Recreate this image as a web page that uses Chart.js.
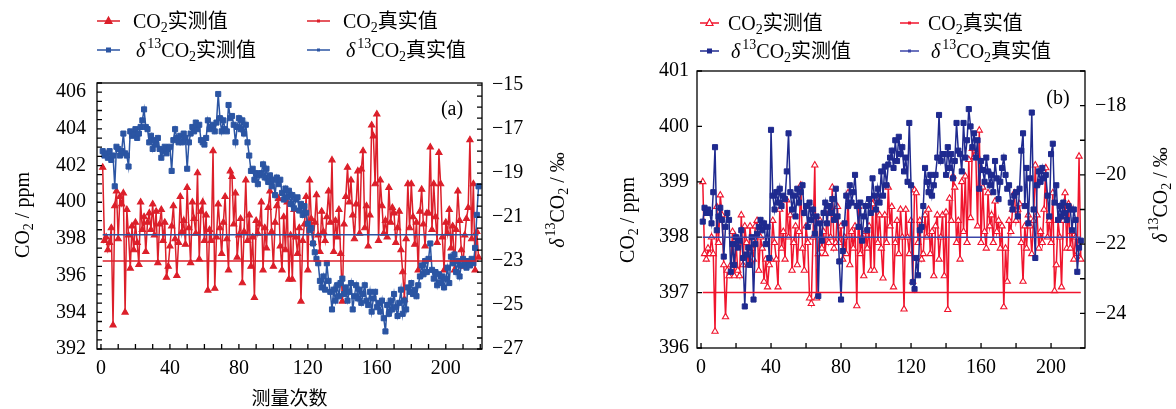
<!DOCTYPE html>
<html>
<head>
<meta charset="utf-8">
<script src="https://cdn.jsdelivr.net/npm/chart.js@4.4.0/dist/chart.umd.min.js"></script>
<style>
html, body { margin: 0; padding: 0; background: #fff; width: 1176px; height: 409px; overflow: hidden; }
.panel { position: absolute; top: 0; width: 588px; height: 409px; }
#pa { left: 0; }
#pb { left: 588px; }
</style>
</head>
<body>
<div class="panel" id="pa"><canvas id="chartA"></canvas></div>
<div class="panel" id="pb"><canvas id="chartB"></canvas></div>
<script>
// 图 (a)
const co2MeasA = [
  401.9, 397.9, 398.1, 397.4, 397.8, 398.6, 393.3, 399.8, 400.6, 398.0,
  400.3, 399.9, 400.5, 394.0, 399.6, 398.2, 396.4, 398.7, 397.4, 398.9,
  397.8, 396.6, 400.0, 398.5, 399.2, 397.3, 398.9, 399.4, 398.5, 399.9,
  398.2, 399.5, 396.7, 398.8, 399.6, 397.9, 398.9, 395.9, 396.5, 397.6,
  398.7, 399.8, 398.0, 396.0, 397.8, 400.3, 398.4, 399.0, 397.7, 400.8,
  398.6, 396.7, 400.0, 399.1, 398.3, 401.6, 396.9, 399.5, 400.0, 397.9,
  399.3, 395.2, 398.5, 397.9, 402.8, 395.3, 398.1, 399.9, 398.6, 397.2,
  398.9, 400.3, 398.0, 396.3, 401.7, 401.4, 398.8, 400.5, 397.0, 398.2,
  399.1, 395.6, 398.4, 401.2, 397.9, 399.3, 396.5, 398.1, 394.8, 399.0,
  398.3, 398.8, 400.0, 396.3, 398.6, 397.5, 399.7, 400.6, 398.4, 396.5,
  398.9, 399.8, 400.2, 397.6, 396.3, 399.2, 397.4, 400.0, 395.8, 398.2,
  395.8, 399.6, 398.1, 397.2, 398.6, 394.6, 397.9, 398.8, 400.3, 396.3,
  401.2, 399.1, 397.8, 398.9, 400.4, 398.2, 397.3, 399.5, 398.4, 397.9,
  399.2, 400.6, 398.9, 402.3, 397.3, 399.0, 398.1, 399.6, 397.2, 394.6,
  398.8, 400.3, 401.9, 400.0, 401.2, 399.3, 398.0, 399.9, 401.7, 398.3,
  401.8, 402.8, 398.6, 399.8, 397.6, 399.3, 404.2, 403.6, 401.0, 404.8,
  397.9, 401.2, 399.8, 398.3, 399.0, 398.1, 400.8, 398.9, 399.7, 399.4,
  397.8, 398.6, 399.5, 397.4, 396.2, 394.7, 398.0, 401.0, 398.6, 401.0,
  399.2, 397.7, 398.9, 396.3, 399.5, 400.7, 398.8, 397.6, 399.4, 399.4,
  403.0, 398.5, 401.0, 399.2, 397.8, 402.7, 401.0, 398.1, 396.3, 398.9,
  398.3, 399.6, 397.5, 398.7, 396.3, 398.5, 400.6, 399.0, 397.4, 396.5,
  398.2, 399.1, 399.7, 403.4, 398.0, 401.0, 396.3, 398.4, 397.0
];
const d13MeasA = [
  -18.0, -18.2, -18.1, -18.3, -18.0, -18.4, -18.2, -19.6, -17.8, -17.9,
  -18.2, -18.0, -17.2, -18.1, -18.2, -18.7, -17.1, -17.3, -17.2, -17.0,
  -17.4, -17.2, -16.9, -16.6, -16.1, -16.9, -17.0, -17.6, -17.3, -17.9,
  -17.5, -17.7, -17.4, -17.9, -18.3, -18.0, -17.8, -18.1, -17.9, -17.8,
  -18.9, -17.5, -17.0, -17.4, -17.6, -17.3, -17.6, -17.2, -17.4, -18.8,
  -17.6, -17.2, -16.9, -17.1, -16.7, -17.0, -16.8, -17.5, -17.6, -17.7,
  -17.4, -16.6, -17.0, -16.9, -16.8, -17.1, -16.7, -15.4, -16.5, -17.1,
  -16.6, -17.0, -17.1, -15.9, -16.5, -16.4, -16.8, -17.6, -16.9, -16.5,
  -17.0, -16.6, -17.2, -16.8, -17.6, -18.2, -18.9, -18.8, -19.3, -19.0,
  -19.5, -19.1, -19.0, -18.6, -19.2, -18.8, -19.4, -19.1, -19.6, -19.3,
  -20.0, -19.2, -19.5, -19.3, -19.9, -20.2, -19.7, -20.1, -19.8, -20.4,
  -20.0, -20.6, -20.2, -20.1, -20.7, -20.4, -20.9, -20.5, -20.8, -21.3,
  -21.6, -21.5, -22.2, -22.6, -22.9, -23.1, -23.9, -24.2, -23.7, -24.3,
  -23.1, -23.9, -24.4, -25.2, -24.3, -24.8, -24.1, -24.6, -24.0, -23.8,
  -24.5, -24.2, -24.8, -24.4, -24.0, -25.2, -24.6, -24.1, -24.7, -24.3,
  -24.9, -24.5, -24.1, -24.8, -25.0, -24.4, -25.3, -24.7, -24.4, -25.1,
  -24.9, -25.3, -24.8, -25.6, -26.2, -25.0, -25.4, -24.8, -25.2, -24.5,
  -25.1, -25.5, -24.9, -24.3, -25.4, -24.8, -25.2, -24.2, -24.4, -24.0,
  -24.5, -24.3, -24.6, -24.1, -23.7, -23.2, -23.6, -23.0, -23.5, -22.9,
  -22.2, -23.4, -23.8, -23.5, -24.1, -23.6, -24.0, -23.7, -24.2, -23.8,
  -23.3, -24.0, -22.8, -23.1, -22.7, -23.5, -23.0, -23.7, -23.2, -22.9,
  -23.1, -23.3, -23.0, -23.2, -22.9, -23.1, -22.4, -20.9, -19.6
];
const co2TrueA = 396.8;
const d13TrueA = -21.8;

// 图 (b)
const co2MeasB = [
  399.0, 397.7, 397.6, 397.8, 397.7, 398.0, 397.7, 396.3, 398.55, 397.9,
  398.76, 398.4, 397.5, 396.56, 397.4, 397.3, 397.5, 398.1, 397.3, 397.9,
  397.4, 397.3, 398.4, 397.5, 398.2, 397.9, 397.5, 398.2, 397.8, 397.6,
  398.2, 398.3, 397.4, 398.0, 397.8, 397.2, 397.6, 397.1, 397.5, 397.6,
  398.3, 397.9, 397.6, 397.1, 398.5, 397.8, 398.1, 397.6, 398.67, 398.0,
  398.4, 397.4, 397.9, 398.2, 397.5, 398.1, 398.94, 397.8, 397.4, 398.2,
  397.9, 396.9, 396.8, 398.0, 399.3, 396.9, 397.7, 398.3, 397.8, 398.1,
  397.7, 398.5, 397.9, 398.0, 398.9, 397.8, 397.9, 398.55, 397.9, 398.2,
  397.6, 398.0, 397.7, 398.8, 397.5, 398.1, 397.8, 398.2, 396.76, 398.55,
  397.7, 398.0, 397.3, 398.1, 397.8, 398.2, 397.4, 398.6, 397.4, 398.7,
  397.9, 398.4, 397.8, 397.26, 398.4, 397.9, 398.9, 398.2, 398.55, 397.1,
  397.9, 398.3, 397.7, 398.5, 398.0, 396.7, 398.5, 398.0, 397.7, 398.3,
  397.2, 398.85, 398.8, 397.9, 398.3, 397.6, 397.7, 398.4, 398.0, 398.5,
  397.7, 398.1, 397.3, 398.2, 398.4, 397.6, 398.0, 398.4, 397.3, 398.45,
  396.69, 398.7, 398.3, 399.1, 398.9, 397.9, 398.3, 397.6, 399.0, 398.1,
  399.1, 397.9, 399.4, 398.35, 399.6, 399.45, 399.5, 398.2, 399.93, 397.9,
  398.9, 398.1, 397.8, 398.8, 398.2, 398.4, 397.9, 398.65, 398.1, 398.3,
  397.8, 398.2, 396.74, 397.8, 397.2, 398.3, 398.1, 398.5, 398.8, 398.3,
  398.5, 398.6, 397.9, 397.2, 398.2, 397.8, 398.4, 398.2, 397.7, 398.3,
  399.3, 398.4, 397.8, 398.1, 397.9, 398.5, 399.25, 398.0, 398.3, 397.9,
  398.8, 397.03, 397.5, 398.3, 398.0, 397.1, 398.3, 398.8, 397.8, 398.6,
  397.8, 398.1, 397.6, 398.0, 397.7, 399.46, 397.6
];
const d13MeasB = [
  -21.35, -20.95, -21.1, -21.0, -21.1, -21.4, -20.5, -19.2, -21.6, -21.2,
  -20.95, -21.3, -22.36, -21.5, -21.1, -21.3, -22.8, -22.0, -22.6, -21.8,
  -22.1, -21.9, -21.6, -22.4, -23.8, -22.3, -22.1, -22.6, -21.8, -23.6,
  -22.0, -21.7, -21.5, -21.3, -21.6, -21.4, -22.0, -21.5, -22.4, -18.7,
  -20.6, -21.0, -20.5, -20.8, -20.4, -20.9, -20.6, -20.7, -19.9, -18.8,
  -20.5, -21.0, -20.6, -21.2, -20.4, -20.8, -20.5, -20.3, -21.1, -20.9,
  -21.5, -20.8, -21.3, -21.0, -21.7, -21.2, -23.5, -21.4, -21.9, -21.1,
  -20.8, -21.4, -20.9, -21.1, -20.7, -21.3, -20.4, -21.2, -22.5, -23.6,
  -22.2, -21.4, -20.6, -20.9, -20.3, -20.8, -20.5, -20.0, -20.9, -21.5,
  -20.8, -21.9, -21.2, -20.9, -21.6, -20.7, -21.1, -20.1, -20.6, -21.0,
  -20.4, -20.8, -19.9, -20.6, -19.76, -20.3, -19.7, -19.5, -19.3, -19.8,
  -19.0, -19.6, -18.9, -19.4, -19.2, -19.9, -19.5, -20.2, -18.5, -20.3,
  -23.1, -23.3, -22.4, -22.9, -21.6, -21.5, -20.9, -19.8, -20.2, -20.5,
  -20.0, -20.6, -20.3, -20.0, -19.5, -18.27, -19.6, -19.4, -19.4, -20.0,
  -19.2, -19.8, -19.4, -20.1, -19.6, -18.5, -19.3, -19.4, -19.9, -18.5,
  -19.5, -19.0, -18.1, -18.6, -19.2, -18.8, -19.5, -19.0, -20.4, -19.6,
  -19.86, -20.2, -19.5, -19.9, -20.3, -20.0, -20.5, -19.6, -20.1, -20.7,
  -20.2, -19.8, -19.5, -20.0, -20.4, -20.3, -20.8, -21.0, -20.6, -20.5,
  -21.2, -20.4, -19.3, -18.8, -20.9, -19.8, -21.4, -20.1, -18.2, -21.0,
  -22.4, -20.3, -19.9, -20.2, -19.8, -20.1, -20.0, -20.6, -21.2, -19.4,
  -19.1, -20.8, -20.3, -21.3, -20.9, -21.2, -20.8, -21.1, -21.3, -20.9,
  -21.0, -21.6, -21.0, -21.3, -22.8, -22.1, -21.9
];
const co2TrueB = 397.0;
const d13TrueB = -21.8;

const legendLabels = ['CO_2实测值', 'CO_2真实值', 'δ^{13}CO_2实测值', 'δ^{13}CO_2真实值'];
const xTicks = [0, 40, 80, 120, 160, 200];
const leftTicksA = [392, 394, 396, 398, 400, 402, 404, 406];
const rightTicksA = [-27, -25, -23, -21, -19, -17, -15];
const leftTicksB = [396, 397, 398, 399, 400, 401];
const rightTicksB = [-24, -22, -20, -18];

const SERIF = "'Liberation Serif', 'Noto Sans CJK SC', serif";

// 简单的上下标文字
function parseRich(s) {
  const parts = [];
  let i = 0;
  while (i < s.length) {
    const c = s[i];
    if (c === '_') { parts.push({ t: s[i + 1], k: 'sub' }); i += 2; }
    else if (c === '^') { const j = s.indexOf('}', i); parts.push({ t: s.slice(i + 2, j), k: 'sup' }); i = j + 1; }
    else if (c === 'δ') { parts.push({ t: c, k: 'it' }); i++; }
    else {
      let j = i;
      while (j < s.length && !'_^δ'.includes(s[j])) j++;
      parts.push({ t: s.slice(i, j), k: 'n' }); i = j;
    }
  }
  return parts;
}
function fontFor(k, size) {
  if (k === 'sub' || k === 'sup') return Math.round(size * 0.68) + 'px ' + SERIF;
  if (k === 'it') return 'italic ' + size + 'px ' + SERIF;
  return size + 'px ' + SERIF;
}
function drawRich(ctx, s, x, y, size, align) {
  const parts = parseRich(s);
  let w = 0;
  parts.forEach(p => { ctx.font = fontFor(p.k, size); p.w = ctx.measureText(p.t).width + (p.k === 'it' ? 2 : 0); w += p.w; });
  let cx = align === 'center' ? x - w / 2 : x;
  ctx.textAlign = 'left';
  ctx.textBaseline = 'alphabetic';
  const base = y + size * 0.33;
  parts.forEach(p => {
    ctx.font = fontFor(p.k, size);
    const dy = p.k === 'sub' ? size * 0.22 : p.k === 'sup' ? -size * 0.42 : 0;
    ctx.fillText(p.t, cx, base + dy);
    cx += p.w;
  });
}

const decorPlugin = {
  id: 'decor',
  afterDraw(chart, args, o) {
    const ctx = chart.ctx;
    const a = chart.chartArea;
    ctx.save();
    ctx.strokeStyle = '#000';
    ctx.lineWidth = 1.3;
    // 内向刻度
    o.minor.forEach(m => {
      const sc = chart.scales[m.axis];
      ctx.beginPath();
      for (let v = m.from; v <= m.to + 1e-9; v += m.step) {
        const p = sc.getPixelForValue(v);
        if (m.axis === 'x') { ctx.moveTo(p, a.bottom); ctx.lineTo(p, a.bottom - 5); }
        else if (m.axis === 'yL') { ctx.moveTo(a.left, p); ctx.lineTo(a.left + 5, p); }
        else { ctx.moveTo(a.right, p); ctx.lineTo(a.right - 5, p); }
      }
      ctx.stroke();
    });
    ctx.strokeRect(a.left, a.top, a.right - a.left, a.bottom - a.top);

    ctx.fillStyle = '#000';
    // 图例
    const L = o.legend;
    chart.data.datasets.forEach((ds, i) => {
      const col = i % 2, row = Math.floor(i / 2);
      const x0 = L.x + col * L.colW, y0 = L.y + row * L.rowH;
      ctx.strokeStyle = ds.borderColor;
      ctx.lineWidth = 1.5;
      ctx.beginPath(); ctx.moveTo(x0, y0); ctx.lineTo(x0 + L.len, y0); ctx.stroke();
      const mx = x0 + L.len / 2;
      if (ds.pointStyle === 'triangle') {
        ctx.beginPath(); ctx.moveTo(mx, y0 - 4); ctx.lineTo(mx + 3.5, y0 + 2.5); ctx.lineTo(mx - 3.5, y0 + 2.5); ctx.closePath();
        ctx.fillStyle = ds.backgroundColor; ctx.fill(); ctx.lineWidth = 1.2; ctx.stroke();
      } else if (ds.pointStyle === 'rect') {
        ctx.fillStyle = ds.borderColor; ctx.fillRect(mx - 2.5, y0 - 2.5, 5, 5);
      } else {
        ctx.fillStyle = ds.borderColor; ctx.fillRect(mx - 1.5, y0 - 1.5, 3, 3);
      }
      ctx.fillStyle = '#000';
      drawRich(ctx, ds.label, x0 + L.len + L.gap + (i >= 2 ? 3 : 0), y0, 20, 'left');
    });
    // 轴标题
    ctx.save(); ctx.translate(o.leftTitle.x, o.leftTitle.y); ctx.rotate(-Math.PI / 2);
    drawRich(ctx, 'CO_2 / ppm', 0, 0, 20, 'center'); ctx.restore();
    ctx.save(); ctx.translate(o.rightTitle.x, o.rightTitle.y); ctx.rotate(-Math.PI / 2);
    drawRich(ctx, 'δ^{13}CO_2 / ‰', 0, 0, 20, 'center'); ctx.restore();
    ctx.font = '20px ' + SERIF; ctx.textAlign = 'center'; ctx.textBaseline = 'middle';
    ctx.fillText(o.tag.text, o.tag.x, o.tag.y);
    ctx.restore();
  }
};

const pts = arr => arr.map((v, i) => ({ x: i + 1, y: v }));
const minus = v => String(v).replace('-', '\u2212');

function makePanel(id, c) {
  const n = c.co2.length;
  new Chart(document.getElementById(id), {
    type: 'line',
    data: {
      datasets: [
        { label: legendLabels[0], data: pts(c.co2), yAxisID: 'yL', borderColor: c.red, backgroundColor: c.triFill,
          pointStyle: 'triangle', pointRadius: 3.6, pointBorderWidth: 1.1, borderWidth: 1.5, order: 3 },
        { label: legendLabels[1], data: [{ x: 1, y: c.co2True }, { x: n, y: c.co2True }], yAxisID: 'yL',
          borderColor: c.red, pointRadius: 0, borderWidth: 1.5, order: 1 },
        { label: legendLabels[2], data: pts(c.d13), yAxisID: 'yR', borderColor: c.blue, backgroundColor: c.blue,
          pointStyle: 'rect', pointRadius: 3.6, pointBorderWidth: 1, borderWidth: 1.5, order: 2 },
        { label: legendLabels[3], data: [{ x: 1, y: c.d13True }, { x: c.d13.length, y: c.d13True }], yAxisID: 'yR',
          borderColor: c.blueLine, pointRadius: 0, borderWidth: 1.5, order: 0 }
      ]
    },
    options: {
      animation: false, responsive: true, maintainAspectRatio: false,
      layout: { padding: { top: c.top, left: 0, right: 0, bottom: 0 } },
      plugins: { legend: { display: false }, tooltip: { enabled: false }, decor: c.decor },
      elements: { line: { tension: 0 } },
      scales: {
        x: {
          type: 'linear', min: c.xMin, max: c.xMax,
          grid: { display: false, drawTicks: false }, border: { display: false },
          afterBuildTicks: s => { s.ticks = xTicks.map(v => ({ value: v })); },
          afterFit: s => { s.height = c.xH; },
          ticks: { autoSkip: false, maxRotation: 0, padding: 8, color: '#000', font: { family: SERIF, size: 20 } },
          title: { display: !!c.xTitle, text: c.xTitle, color: '#000', padding: { top: 0, bottom: 0 },
                   font: { family: "'Noto Sans CJK SC', sans-serif", size: 19 } }
        },
        yL: {
          position: 'left', min: c.lMin, max: c.lMax,
          grid: { display: false, drawTicks: false }, border: { display: false },
          afterBuildTicks: s => { s.ticks = c.lTicks.map(v => ({ value: v })); },
          afterFit: s => { s.width = c.lW; },
          ticks: { autoSkip: false, padding: c.lPad, color: '#000', font: { family: SERIF, size: 20 } }
        },
        yR: {
          position: 'right', min: c.rMin, max: c.rMax,
          grid: { display: false, drawTicks: false }, border: { display: false },
          afterBuildTicks: s => { s.ticks = c.rTicks.map(v => ({ value: v })); },
          afterFit: s => { s.width = c.rW; },
          ticks: { autoSkip: false, padding: c.rPad, color: '#000', font: { family: SERIF, size: 20 }, callback: minus }
        }
      }
    },
    plugins: [decorPlugin]
  });
}

makePanel('chartA', {
  co2: co2MeasA, d13: d13MeasA, co2True: co2TrueA, d13True: d13TrueA,
  red: '#dc1f2a', triFill: '#dc1f2a', blue: '#2b55a3', blueLine: '#2b55a3',
  top: 83, xH: 60, lW: 97, rW: 106, lPad: 11, rPad: 10,
  xMin: -2.3, xMax: 221, lMin: 392, lMax: 406.5, rMin: -27, rMax: -14.9,
  lTicks: leftTicksA, rTicks: rightTicksA, xTitle: '测量次数',
  decor: {
    minor: [{ axis: 'x', from: 0, to: 220, step: 10 }, { axis: 'yL', from: 392, to: 406.5, step: 0.5 },
            { axis: 'yR', from: -27, to: -15, step: 0.5 }],
    legend: { x: 97, y: 21, colW: 210, rowH: 29, len: 23, gap: 13 },
    leftTitle: { x: 22, y: 215 }, rightTitle: { x: 557, y: 200 },
    tag: { text: '(a)', x: 452, y: 110 }
  }
});

makePanel('chartB', {
  co2: co2MeasB, d13: d13MeasB, co2True: co2TrueB, d13True: d13TrueB,
  red: '#f0142d', triFill: '#ffffff', blue: '#1f2a8f', blueLine: '#3b45a8',
  top: 71, xH: 61, lW: 109, rW: 91, lPad: 8, rPad: 10,
  xMin: -2.3, xMax: 219.4, lMin: 396, lMax: 401, rMin: -25, rMax: -17,
  lTicks: leftTicksB, rTicks: rightTicksB, xTitle: '',
  decor: {
    minor: [{ axis: 'x', from: 0, to: 219, step: 20 }, { axis: 'yL', from: 396, to: 401, step: 1 },
            { axis: 'yR', from: -25, to: -17, step: 1 }],
    legend: { x: 112, y: 23, colW: 200, rowH: 28, len: 19, gap: 9 },
    leftTitle: { x: 39, y: 220 }, rightTitle: { x: 572, y: 195 },
    tag: { text: '(b)', x: 470, y: 99 }
  }
});
</script>
</body>
</html>
